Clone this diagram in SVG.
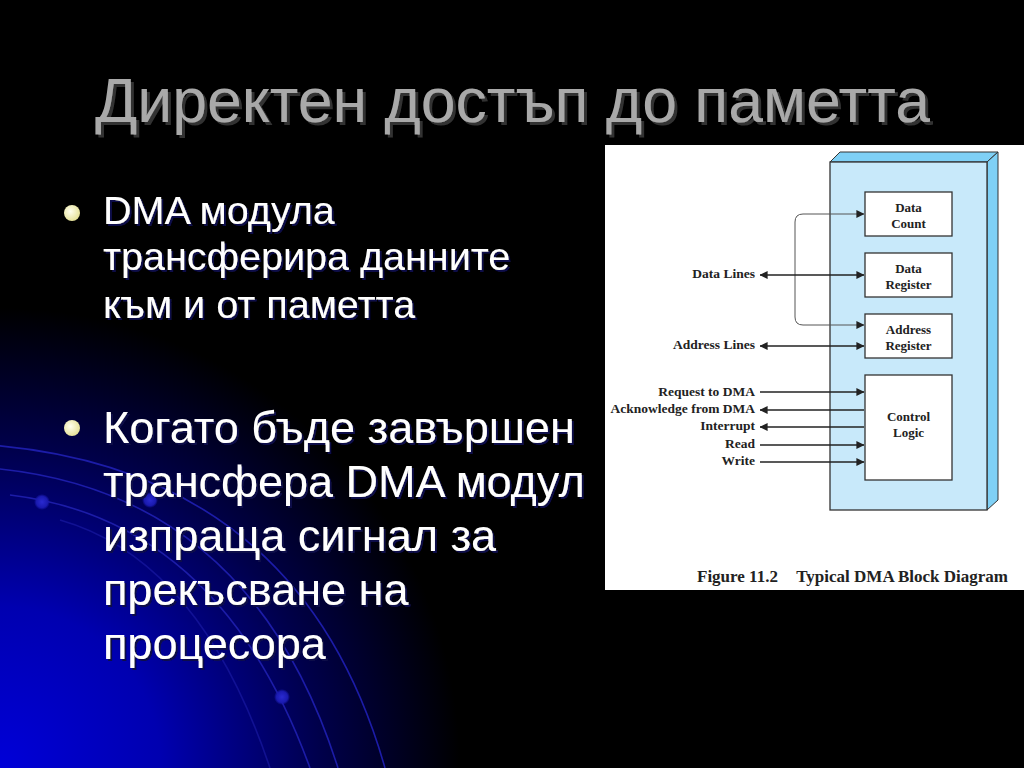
<svg xmlns="http://www.w3.org/2000/svg" width="1024" height="768" viewBox="0 0 1024 768">
  <defs>
    <radialGradient id="glow" gradientUnits="userSpaceOnUse" cx="0" cy="768" r="460">
      <stop offset="0" stop-color="#0000d8"/>
      <stop offset="0.35" stop-color="#0000b0"/>
      <stop offset="0.7" stop-color="#00004a"/>
      <stop offset="1" stop-color="#000000"/>
    </radialGradient>
    <radialGradient id="bullet" cx="0.4" cy="0.4" r="0.6">
      <stop offset="0" stop-color="#ffffee"/>
      <stop offset="1" stop-color="#e6e29a"/>
    </radialGradient>
    <radialGradient id="dot" cx="0.5" cy="0.5" r="0.5">
      <stop offset="0" stop-color="#2a2ad0"/>
      <stop offset="0.7" stop-color="#1a1ab0"/>
      <stop offset="1" stop-color="#1a1ab0" stop-opacity="0"/>
    </radialGradient>
    <filter id="tsh" x="-5%" y="-20%" width="110%" height="150%">
      <feDropShadow dx="3" dy="3" stdDeviation="0.6" flood-color="#303030" flood-opacity="1"/>
    </filter>
    <filter id="bsh" x="-5%" y="-20%" width="110%" height="150%">
      <feDropShadow dx="2" dy="2" stdDeviation="0.5" flood-color="#10104a" flood-opacity="1"/>
    </filter>
    <marker id="arr" viewBox="0 0 10 10" refX="9.5" refY="5" markerWidth="8" markerHeight="8" markerUnits="userSpaceOnUse" orient="auto-start-reverse">
      <path d="M0,0 L10,5 L0,10 Z" fill="#222"/>
    </marker>
    <style>
      .title { font-family: "Liberation Sans", Arial, sans-serif; font-size: 62.5px; fill: #a9a9a9; }
      .b1 { font-family: "Liberation Sans", Arial, sans-serif; font-size: 39.5px; fill: #ffffff; }
      .b2 { font-family: "Liberation Sans", Arial, sans-serif; font-size: 45px; fill: #ffffff; }
      .arc { fill: none; stroke: #1c1ca8; stroke-width: 1.6; }
      .box { fill: #ffffff; stroke: #333; stroke-width: 1.3; }
      .lbl { font-family: "Liberation Serif", "Times New Roman", serif; font-weight: bold; font-size: 13px; fill: #222; text-anchor: middle; }
      .sig { font-family: "Liberation Serif", "Times New Roman", serif; font-weight: bold; font-size: 13.5px; fill: #222; text-anchor: end; }
      .cap { font-family: "Liberation Serif", "Times New Roman", serif; font-weight: bold; font-size: 17px; fill: #222; }
      .ln { stroke: #222; stroke-width: 1.4; fill: none; }
      .loop { stroke: #555; stroke-width: 1; fill: none; }
    </style>
  </defs>

  <!-- background -->
  <rect x="0" y="0" width="1024" height="768" fill="#000"/>
  <rect x="0" y="300" width="500" height="468" fill="url(#glow)"/>
  <g id="background-arcs">
    <path class="arc" d="M-10,445 Q300,470 385,768"/>
    <path class="arc" d="M-10,468 Q250,490 338,768"/>
    <path class="arc" d="M10,495 Q220,520 310,768"/>
    <path class="arc" d="M60,520 Q200,560 270,768" opacity="0.6"/>
    <circle cx="42" cy="502" r="8" fill="url(#dot)"/>
    <circle cx="150" cy="500" r="8" fill="url(#dot)"/>
    <circle cx="282" cy="697" r="8" fill="url(#dot)"/>
  </g>

  <!-- title -->
  <g id="title">
    <text class="title" x="95" y="122" filter="url(#tsh)">Директен достъп до паметта</text>
  </g>

  <!-- bullet 1 -->
  <g id="bullet-1">
    <circle cx="72" cy="213" r="8" fill="url(#bullet)"/>
    <g class="b1" filter="url(#bsh)">
      <text x="103" y="224">DMA модула</text>
      <text x="103" y="270">трансферира данните</text>
      <text x="103" y="318">към и от паметта</text>
    </g>
  </g>

  <!-- bullet 2 -->
  <g id="bullet-2">
    <circle cx="72" cy="428" r="8" fill="url(#bullet)"/>
    <g class="b2" filter="url(#bsh)">
      <text x="103" y="443">Когато бъде завършен</text>
      <text x="103" y="497">трансфера DMA модул</text>
      <text x="103" y="551">изпраща сигнал за</text>
      <text x="103" y="605">прекъсване на</text>
      <text x="103" y="659">процесора</text>
    </g>
  </g>

  <!-- figure panel -->
  <rect id="figure-panel" x="605" y="145" width="419" height="445" fill="#ffffff"/>

  <g id="dma-module">
    <polygon points="830,162 840,152 998,152 987,162" fill="#7fd0f5" stroke="#333" stroke-width="1"/>
    <polygon points="987,162 998,152 998,500 987,510" fill="#7fd0f5" stroke="#333" stroke-width="1"/>
    <rect x="830" y="162" width="157" height="348" fill="#c8e9fa" stroke="#333" stroke-width="1.3"/>
  </g>

  <g id="data-count">
    <rect class="box" x="865" y="192" width="87" height="44"/>
    <text class="lbl" x="908.5" y="212">Data</text>
    <text class="lbl" x="908.5" y="228">Count</text>
  </g>
  <g id="data-register">
    <rect class="box" x="865" y="253" width="87" height="44"/>
    <text class="lbl" x="908.5" y="273">Data</text>
    <text class="lbl" x="908.5" y="289">Register</text>
  </g>
  <g id="address-register">
    <rect class="box" x="865" y="314" width="87" height="44"/>
    <text class="lbl" x="908.5" y="334">Address</text>
    <text class="lbl" x="908.5" y="350">Register</text>
  </g>
  <g id="control-logic">
    <rect class="box" x="865" y="375" width="87" height="105"/>
    <text class="lbl" x="908.5" y="421">Control</text>
    <text class="lbl" x="908.5" y="437">Logic</text>
  </g>

  <g id="connectors">
    <path class="loop" d="M864,214 H803 Q795,214 795,222 V317 Q795,325 803,325 H864" marker-start="url(#arr)" marker-end="url(#arr)"/>
    <line class="ln" x1="760" y1="275" x2="864" y2="275" marker-start="url(#arr)" marker-end="url(#arr)"/>
    <line class="ln" x1="760" y1="346" x2="864" y2="346" marker-start="url(#arr)" marker-end="url(#arr)"/>
    <line class="ln" x1="760" y1="392" x2="864" y2="392" marker-end="url(#arr)"/>
    <line class="ln" x1="864" y1="410" x2="760" y2="410" marker-end="url(#arr)"/>
    <line class="ln" x1="864" y1="427" x2="760" y2="427" marker-end="url(#arr)"/>
    <line class="ln" x1="760" y1="445" x2="864" y2="445" marker-end="url(#arr)"/>
    <line class="ln" x1="760" y1="462" x2="864" y2="462" marker-end="url(#arr)"/>
  </g>

  <g id="signal-labels">
    <text class="sig" x="755" y="278">Data Lines</text>
    <text class="sig" x="755" y="349">Address Lines</text>
    <text class="sig" x="755" y="396">Request to DMA</text>
    <text class="sig" x="755" y="413">Acknowledge from DMA</text>
    <text class="sig" x="755" y="430">Interrupt</text>
    <text class="sig" x="755" y="448">Read</text>
    <text class="sig" x="755" y="465">Write</text>
  </g>

  <g id="caption">
    <text class="cap" x="697" y="582">Figure 11.2</text>
    <text class="cap" x="1008" y="582" text-anchor="end">Typical DMA Block Diagram</text>
  </g>
</svg>
